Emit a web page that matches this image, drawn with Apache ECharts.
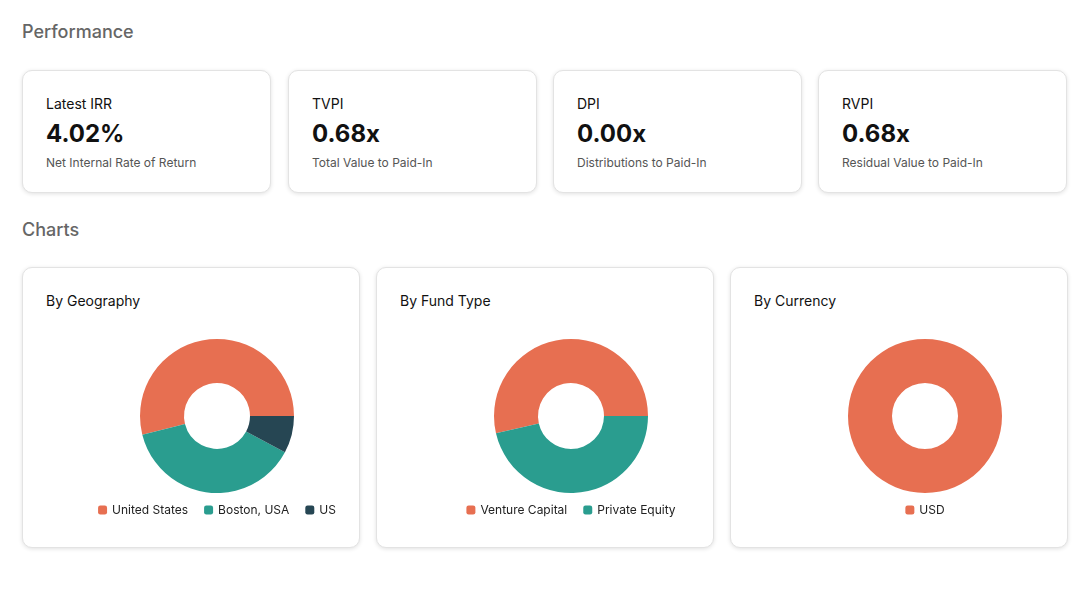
<!DOCTYPE html>
<html><head><meta charset="utf-8">
<script src="https://cdn.jsdelivr.net/npm/echarts@6/dist/echarts.min.js"></script>
<style>
body{margin:0;background:#fff;font-family:Inter,"Noto Sans",sans-serif;width:1080px;height:606px;position:relative;overflow:hidden}
.sec{position:absolute;left:22px;font-size:18px;color:#666;font-weight:500}
.card{position:absolute;box-sizing:border-box;border:1px solid #e3e3e3;border-radius:10px;box-shadow:0 1px 4px rgba(0,0,0,0.12);background:#fff}
.kpi{top:70px;width:249px;height:123px}
.kpi .l{position:absolute;left:23px;top:24px;font-size:14px;color:#111}
.kpi .v{position:absolute;left:23px;top:48px;font-size:24px;font-weight:700;color:#111}
.kpi .s{position:absolute;left:23px;top:84px;font-size:12px;color:#555}
.cc{top:267px;width:338px;height:281px}
.cc .t{position:absolute;left:23px;top:24px;font-size:14px;color:#111}
.cc .ch{position:absolute;left:50px;top:0;width:288px;height:281px}
</style></head><body>
<div class="sec" style="top:21px">Performance</div>
<div id="kpis"></div>
<div class="sec" style="top:219px">Charts</div>
<div id="charts"></div>
<script>
const kpiLabels = ["Latest IRR", "TVPI", "DPI", "RVPI"];
const kpiValues = ["4.02%", "0.68x", "0.00x", "0.68x"];
const kpiSubs = ["Net Internal Rate of Return", "Total Value to Paid-In", "Distributions to Paid-In", "Residual Value to Paid-In"];
const kpiLeft = [22, 288, 553, 818];

const chartTitles = ["By Geography", "By Fund Type", "By Currency"];
const chartLeft = [22, 376, 730];
const geoNames = ["United States", "Boston, USA", "US"];
const geoValues = [53.9, 38.3, 7.8];
const fundNames = ["Venture Capital", "Private Equity"];
const fundValues = [53.6, 46.4];
const curNames = ["USD"];
const curValues = [100];
const colors = ["#E76F51", "#2A9D8F", "#264653"];

const kp = document.getElementById("kpis");
kpiLabels.forEach((l, i) => {
  const d = document.createElement("div");
  d.className = "card kpi";
  d.style.left = kpiLeft[i] + "px";
  d.innerHTML = `<div class="l">${l}</div><div class="v">${kpiValues[i]}</div><div class="s">${kpiSubs[i]}</div>`;
  kp.appendChild(d);
});

const data = [[geoNames, geoValues], [fundNames, fundValues], [curNames, curValues]];
const cw = document.getElementById("charts");
chartTitles.forEach((t, i) => {
  const d = document.createElement("div");
  d.className = "card cc";
  d.style.left = chartLeft[i] + "px";
  d.innerHTML = `<div class="t">${t}</div><div class="ch"></div>`;
  cw.appendChild(d);
  const chart = echarts.init(d.querySelector(".ch"));
  const [names, vals] = data[i];
  chart.setOption({
    animation: false,
    color: colors,
    legend: {
      bottom: 28, left: "center", itemWidth: 9, itemHeight: 9, itemGap: 16,
      icon: "roundRect",
      textStyle: { fontFamily: "Inter", fontSize: 12, color: "#222" },
      data: names
    },
    series: [{
      type: "pie",
      center: ["50%", 148],
      radius: [33, 77],
      startAngle: 0,
      clockwise: false,
      label: { show: false },
      labelLine: { show: false },
      data: names.map((n, k) => ({ name: n, value: vals[k] }))
    }]
  });
});
</script>
</body></html>
